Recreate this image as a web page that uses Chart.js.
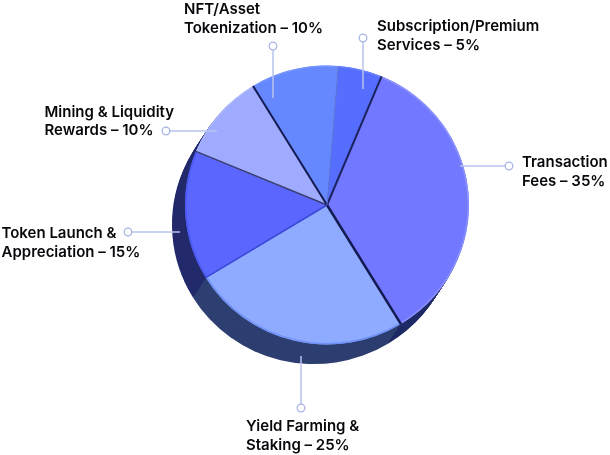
<!DOCTYPE html>
<html>
<head>
<meta charset="utf-8">
<style>
  html, body { margin: 0; padding: 0; background: #fff; }
  canvas { display: block; }
</style>
<script src="https://cdn.jsdelivr.net/npm/chart.js@4"></script>
</head>
<body>
<canvas id="myChart" width="610" height="455"></canvas>
<script>
let categories = ["Transaction Fees", "Yield Farming & Staking", "Token Launch & Appreciation", "Mining & Liquidity Rewards", "NFT/Asset Tokenization", "Subscription/Premium Services"];
let shares = [35, 25, 15, 10, 10, 5];
let sliceColors = ["#7278ff", "#8fabff", "#5a66fd", "#9fabff", "#6688ff", "#566eff"];
let sideColors = ["#1e2a66", "#2d3e70", "#232a6b", "#232a6b", "#232a6b", "#232a6b"];
let rimColors = ["#8a90fb", "#6f90f8", "#4c58f2", "#aab5ff", "#7593ff", "#6a80ff"];

// seam at the start of each slice
let seamColors = ["#1d2360", "#141a52", "#3a49d8", "#3b4170", "#141a52", "#5f78d8"];
let seamWidths = [2, 2.5, 1.5, 1.5, 2, 1];

let callouts = [
  { lines: ["Transaction", "Fees – 35%"], x: 522, y: 167, dot: [509, 166], end: [460, 166] },
  { lines: ["Yield Farming &", "Staking – 25%"], x: 246, y: 431, dot: [301, 408], end: [301, 356] },
  { lines: ["Token Launch &", "Appreciation – 15%"], x: 1.5, y: 238, dot: [128, 232], end: [180, 232] },
  { lines: ["Mining & Liquidity", "Rewards – 10%"], x: 44.5, y: 116.5, dot: [166, 131], end: [217, 131] },
  { lines: ["NFT/Asset", "Tokenization – 10%"], x: 184, y: 14, dot: [273, 46], end: [273, 98] },
  { lines: ["Subscription/Premium", "Services – 5%"], x: 377, y: 31, dot: [363, 38], end: [363, 89] },
];

let depthX = -13;
let depthY = 20;
let squashY = 0.982;

function squash(ctx, cy) {
  ctx.translate(0, cy);
  ctx.scale(1, squashY);
  ctx.translate(0, -cy);
}

let piePlugin = {
  id: "piePlugin",
  beforeDatasetsDraw(chart) {
    let ctx = chart.ctx;
    let arcs = chart.getDatasetMeta(0).data;
    let steps = 20;
    ctx.save();
    squash(ctx, arcs[0].y);
    // side wall of the disc, back to front
    for (let i = steps; i >= 1; i--) {
      arcs.forEach((arc, n) => {
        let ox = arc.x + depthX * i / steps;
        let oy = arc.y + depthY * i / steps;
        ctx.beginPath();
        ctx.moveTo(ox, oy);
        ctx.arc(ox, oy, arc.outerRadius, arc.startAngle, arc.endAngle);
        ctx.closePath();
        ctx.fillStyle = sideColors[n];
        ctx.fill();
      });
    }
    ctx.restore();
    ctx.save();
    squash(ctx, arcs[0].y);
  },
  afterDatasetsDraw(chart) {
    let ctx = chart.ctx;
    let arcs = chart.getDatasetMeta(0).data;
    arcs.forEach((arc, n) => {
      ctx.beginPath();
      ctx.arc(arc.x, arc.y, arc.outerRadius - 0.8, arc.startAngle, arc.endAngle);
      ctx.strokeStyle = rimColors[n];
      ctx.lineWidth = 1.6;
      ctx.stroke();
    });
    arcs.forEach((arc, n) => {
      ctx.beginPath();
      ctx.moveTo(arc.x, arc.y);
      ctx.lineTo(arc.x + arc.outerRadius * Math.cos(arc.startAngle), arc.y + arc.outerRadius * Math.sin(arc.startAngle));
      ctx.strokeStyle = seamColors[n];
      ctx.lineWidth = seamWidths[n];
      ctx.stroke();
    });
    ctx.restore();

    // leader lines and labels
    callouts.forEach((c) => {
      let dx = c.end[0] - c.dot[0];
      let dy = c.end[1] - c.dot[1];
      let len = Math.sqrt(dx * dx + dy * dy);
      ctx.beginPath();
      ctx.moveTo(c.dot[0] + dx / len * 4, c.dot[1] + dy / len * 4);
      ctx.lineTo(c.end[0], c.end[1]);
      ctx.strokeStyle = "#b9c3ec";
      ctx.lineWidth = 1.5;
      ctx.stroke();
      ctx.beginPath();
      ctx.arc(c.dot[0], c.dot[1], 3.8, 0, Math.PI * 2);
      ctx.strokeStyle = "#a9b4e6";
      ctx.lineWidth = 1.3;
      ctx.stroke();

      ctx.fillStyle = "#08080c";
      ctx.font = "600 15px Inter";
      ctx.textAlign = "left";
      ctx.textBaseline = "alphabetic";
      c.lines.forEach((line, k) => ctx.fillText(line, c.x, c.y + k * 18.7));
    });
  },
};

let ctx = document.getElementById("myChart").getContext("2d");
let myChart = new Chart(ctx, {
  type: "pie",
  data: {
    labels: categories,
    datasets: [{ data: shares, backgroundColor: sliceColors, borderWidth: 0 }],
  },
  options: {
    responsive: false,
    animation: false,
    rotation: 22.6,
    layout: { padding: { left: 185, right: 141, top: 63, bottom: 108 } },
    plugins: { legend: { display: false }, tooltip: { enabled: false } },
  },
  plugins: [piePlugin],
});
</script>
</body>
</html>
